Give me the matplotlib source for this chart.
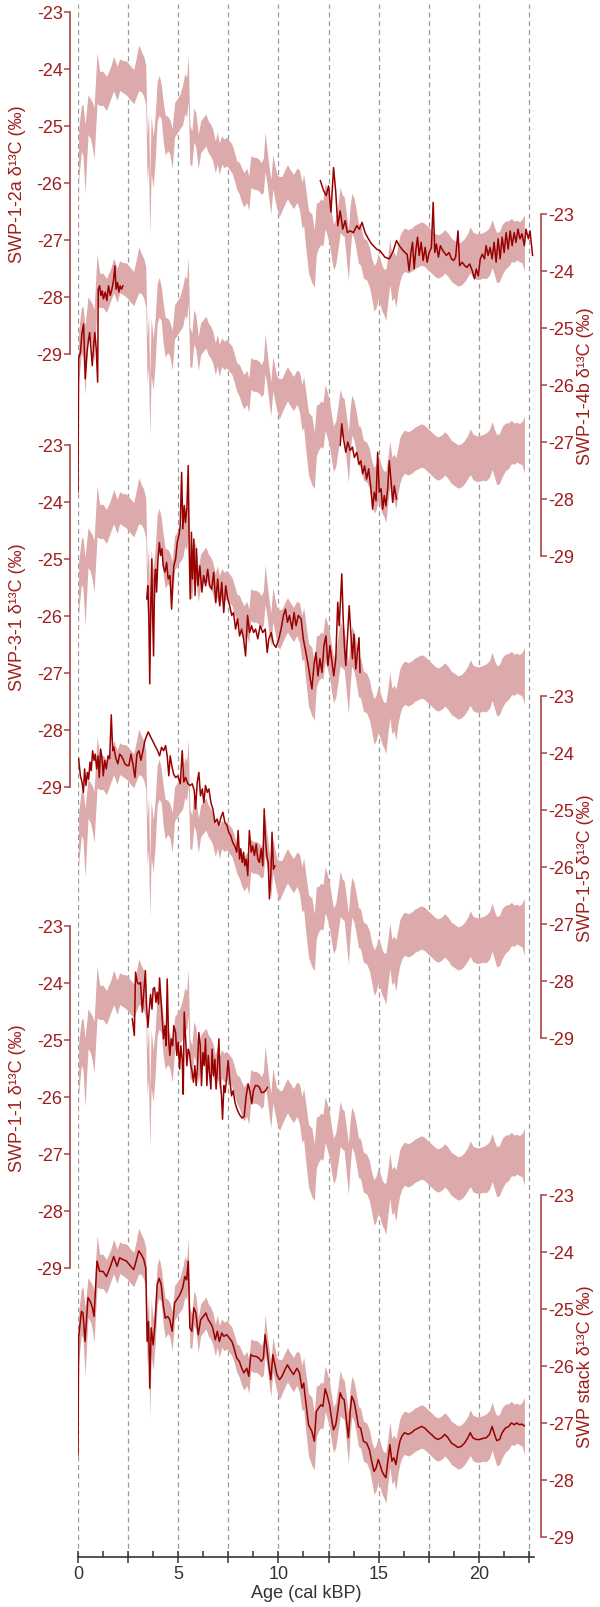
import matplotlib
matplotlib.use('Agg')
import matplotlib.pyplot as plt
from matplotlib.ticker import FixedLocator, FixedFormatter
import numpy as np

plt.rcParams['font.family'] = ['Liberation Sans', 'DejaVu Sans']
plt.rcParams['axes.unicode_minus'] = False

# ---------------- data ----------------
stack_age = [0.0, 0.03, 0.17, 0.25, 0.35, 0.5, 0.62, 0.72, 0.8, 0.95, 1.08, 1.25, 1.42, 1.62, 1.78, 1.95,
             2.08, 2.22, 2.42, 2.58, 2.78, 2.92, 3.03, 3.17, 3.28, 3.38, 3.45, 3.52, 3.58, 3.65, 3.75, 3.85,
             3.95, 4.05, 4.15, 4.25, 4.35, 4.48, 4.58, 4.7, 4.82, 4.92, 5.08, 5.22, 5.33, 5.42, 5.5, 5.58,
             5.68, 5.78, 5.88, 6.0, 6.12, 6.25, 6.38, 6.5, 6.62, 6.72, 6.85, 6.95, 7.05, 7.17, 7.28, 7.42,
             7.55, 7.68, 7.78, 7.92, 8.05, 8.17, 8.28, 8.42, 8.52, 8.62, 8.75, 8.88, 9.02, 9.15, 9.25, 9.33,
             9.42, 9.52, 9.62, 9.72, 9.82, 9.92, 10.05, 10.18, 10.33, 10.45, 10.58, 10.75, 10.92, 11.05,
             11.17, 11.26, 11.34, 11.5, 11.67, 11.79, 11.89, 12.0, 12.12, 12.22, 12.33, 12.42, 12.55, 12.67,
             12.75, 12.86, 12.98, 13.08, 13.18, 13.28, 13.38, 13.49, 13.58, 13.66, 13.77, 13.87, 13.99, 14.1,
             14.24, 14.4, 14.54, 14.65, 14.77, 14.87, 14.98, 15.07, 15.17, 15.26, 15.36, 15.46, 15.56, 15.66,
             15.76, 15.86, 15.96, 16.06, 16.16, 16.29, 16.47, 16.64, 16.8, 16.97, 17.14, 17.3, 17.47, 17.63,
             17.8, 17.96, 18.13, 18.3, 18.46, 18.63, 18.8, 18.96, 19.12, 19.29, 19.45, 19.57, 19.7, 19.87,
             20.03, 20.2, 20.36, 20.53, 20.66, 20.78, 20.89, 21.03, 21.16, 21.32, 21.49, 21.62, 21.77, 21.89,
             22.02, 22.15, 22.27]
stack_mean = [-27.56, -25.5, -25.04, -25.07, -25.57, -24.8, -24.87, -24.98, -25.13, -24.16, -24.34, -24.34,
              -24.43, -24.25, -24.08, -24.25, -24.1, -24.13, -24.16, -24.23, -24.31, -24.13, -23.98, -24.05,
              -24.13, -24.28, -25.57, -25.22, -26.39, -25.33, -25.63, -25.22, -24.57, -24.46, -24.57, -24.92,
              -25.16, -25.13, -25.19, -25.39, -24.89, -24.84, -24.75, -24.63, -24.43, -24.49, -24.16, -25.33,
              -25.39, -24.98, -25.07, -25.45, -25.19, -25.13, -25.07, -25.19, -25.25, -25.33, -25.54, -25.39,
              -25.57, -25.42, -25.48, -25.45, -25.51, -25.57, -25.68, -25.86, -25.92, -26.04, -26.12, -26.04,
              -26.18, -25.8, -25.83, -25.83, -25.86, -25.92, -25.86, -25.45, -25.68, -25.98, -26.24, -25.8,
              -25.98, -26.15, -26.24, -26.18, -26.06, -25.98, -26.06, -26.15, -26.04, -26.12, -26.39, -26.3,
              -26.56, -27.03, -27.15, -27.32, -26.8, -26.74, -26.68, -26.71, -26.4, -26.5, -26.68, -26.97,
              -27.12, -27.03, -26.74, -26.47, -26.56, -26.59, -26.91, -27.26, -26.8, -26.53, -26.62, -26.8,
              -27.06, -27.09, -27.32, -27.35, -27.47, -27.67, -27.85, -27.79, -27.64, -27.73, -27.85, -27.91,
              -27.96, -27.67, -27.38, -27.67, -27.61, -27.73, -27.5, -27.32, -27.23, -27.17, -27.2, -27.17,
              -27.12, -27.09, -27.06, -27.09, -27.15, -27.2, -27.26, -27.29, -27.26, -27.2, -27.26, -27.35,
              -27.39, -27.43, -27.41, -27.35, -27.26, -27.17, -27.26, -27.29, -27.29, -27.27, -27.26, -27.2,
              -27.06, -27.2, -27.31, -27.29, -27.17, -27.09, -27.06, -27.0, -27.03, -27.0, -27.03, -27.02,
              -27.05]
stack_err = [0.05, 0.45, 0.4, 0.45, 0.6, 0.35, 0.35, 0.4, 0.45, 0.45, 0.3, 0.3, 0.3, 0.28, 0.3, 0.3,
             0.28, 0.28, 0.3, 0.3, 0.3, 0.35, 0.4, 0.35, 0.35, 0.35, 0.4, 0.45, 0.5, 0.5, 0.45, 0.4,
             0.35, 0.35, 0.3, 0.35, 0.35, 0.3, 0.3, 0.35, 0.3, 0.3, 0.3, 0.35, 0.35, 0.35, 0.4, 0.35,
             0.3, 0.3, 0.3, 0.3, 0.28, 0.28, 0.28, 0.28, 0.28, 0.28, 0.28, 0.28, 0.28, 0.25, 0.25, 0.25,
             0.25, 0.25, 0.25, 0.25, 0.28, 0.3, 0.3, 0.3, 0.3, 0.28, 0.28, 0.28, 0.28, 0.28, 0.3, 0.35,
             0.3, 0.3, 0.3, 0.3, 0.3, 0.3, 0.35, 0.3, 0.3, 0.3, 0.3, 0.3, 0.3, 0.35,
             0.4, 0.45, 0.5, 0.55, 0.6, 0.5, 0.45, 0.4, 0.4, 0.4, 0.4, 0.4, 0.4, 0.4,
             0.4, 0.4, 0.4, 0.4, 0.35, 0.35, 0.4, 0.45, 0.4, 0.35, 0.35, 0.35, 0.35, 0.35,
             0.35, 0.35, 0.35, 0.35, 0.4, 0.4, 0.4, 0.4, 0.4, 0.4, 0.45, 0.4, 0.4, 0.4,
             0.4, 0.45, 0.4, 0.4, 0.38, 0.38, 0.38, 0.38, 0.38, 0.38, 0.38, 0.38, 0.38, 0.38,
             0.38, 0.38, 0.38, 0.38, 0.38, 0.38, 0.38, 0.38, 0.38, 0.38, 0.38, 0.4, 0.4, 0.4,
             0.4, 0.4, 0.42, 0.42, 0.42, 0.42, 0.44, 0.44, 0.44, 0.42, 0.4, 0.38, 0.36, 0.35,
             0.35, 0.38, 0.5]

swp12a_age = [12.09, 12.25, 12.38, 12.5, 12.62, 12.75, 12.86, 12.96, 13.08, 13.21, 13.33, 13.44, 13.58, 13.74,
              13.91, 14.04, 14.17, 14.32, 14.49, 14.65, 14.9, 15.07, 15.31, 15.53, 15.7, 15.89, 16.03, 16.16,
              16.31, 16.42, 16.52, 16.61, 16.69, 16.77, 16.85, 16.94, 17.02, 17.12, 17.22, 17.32, 17.42, 17.52,
              17.63, 17.72, 17.8, 17.88, 17.98, 18.08, 18.21, 18.38, 18.51, 18.63, 18.74, 18.84, 18.96, 19.04,
              19.17, 19.29, 19.4, 19.54, 19.67, 19.78, 19.87, 19.97, 20.07, 20.17, 20.28, 20.36, 20.46, 20.56,
              20.66, 20.76, 20.86, 20.96, 21.06, 21.16, 21.26, 21.36, 21.46, 21.56, 21.66, 21.76, 21.85, 21.95,
              22.05, 22.15, 22.27, 22.35, 22.47, 22.55, 22.68]
swp12a_val = [-25.96, -26.13, -26.22, -26.05, -26.51, -25.73, -26.16, -26.75, -26.49, -26.81, -26.66, -26.87,
              -26.84, -26.87, -26.75, -26.81, -26.69, -26.87, -26.98, -27.07, -27.16, -27.19, -27.3, -27.33,
              -27.22, -27.01, -27.1, -27.16, -27.22, -27.25, -27.54, -27.22, -27.04, -27.51, -27.19, -26.95,
              -27.27, -27.04, -27.36, -27.13, -27.39, -27.22, -27.13, -26.34, -27.22, -27.07, -27.3, -27.1,
              -27.19, -27.27, -27.22, -27.33, -27.36, -27.3, -26.84, -27.45, -27.39, -27.45, -27.48, -27.42,
              -27.54, -27.68, -27.51, -27.63, -27.33, -27.25, -27.33, -27.1, -27.27, -27.13, -27.33, -27.04,
              -27.39, -26.98, -27.33, -26.95, -27.22, -26.87, -27.16, -26.84, -27.1, -26.87, -27.04, -26.81,
              -26.98, -26.89, -27.1, -26.81, -26.98, -26.84, -27.27]

swp14b_age_a = [0.0, 0.03, 0.12, 0.2, 0.28, 0.36, 0.45, 0.53, 0.58, 0.65, 0.71, 0.78, 0.84, 0.91, 0.98, 1.01,
                1.08, 1.14, 1.21, 1.27, 1.36, 1.44, 1.52, 1.61, 1.69, 1.77, 1.84, 1.9, 1.97, 2.04, 2.1, 2.17,
                2.24]
swp14b_val_a = [-27.88, -25.54, -25.43, -25.08, -24.93, -25.89, -25.43, -25.19, -25.08, -25.37, -25.66, -25.31,
                -25.08, -25.37, -25.95, -24.32, -24.26, -24.43, -24.35, -24.49, -24.37, -24.52, -24.26, -24.43,
                -24.32, -24.17, -23.91, -24.32, -24.2, -24.37, -24.26, -24.32, -24.26]
swp14b_age_b = [13.08, 13.16, 13.25, 13.36, 13.46, 13.58, 13.69, 13.79, 13.91, 14.01, 14.11, 14.2, 14.3, 14.4,
                14.5, 14.6, 14.7, 14.78, 14.87, 14.95, 15.03, 15.12, 15.2, 15.28, 15.36, 15.45, 15.53, 15.61,
                15.7, 15.78, 15.89]
swp14b_val_b = [-27.06, -26.68, -26.95, -27.18, -27.0, -27.15, -27.09, -27.27, -27.18, -27.39, -27.33, -27.56,
                -27.42, -27.65, -27.47, -27.77, -28.18, -27.88, -28.03, -27.18, -27.88, -27.82, -28.18, -27.94,
                -28.12, -27.82, -27.33, -27.65, -28.06, -27.77, -28.0]

swp31_age = [3.43, 3.48, 3.53, 3.58, 3.63, 3.68, 3.72, 3.77, 3.82, 3.87, 3.92, 3.99, 4.06, 4.12, 4.19, 4.25,
             4.34, 4.42, 4.5, 4.59, 4.67, 4.72, 4.78, 4.87, 4.95, 5.03, 5.1, 5.17, 5.23, 5.3, 5.36, 5.43, 5.5,
             5.55, 5.6, 5.66, 5.71, 5.78, 5.84, 5.91, 5.98, 6.08, 6.18, 6.27, 6.37, 6.47, 6.57, 6.67, 6.77,
             6.87, 6.97, 7.07, 7.17, 7.27, 7.37, 7.47, 7.57, 7.67, 7.76, 7.86, 7.96, 8.06, 8.16, 8.26, 8.36,
             8.46, 8.56, 8.66, 8.76, 8.86, 8.97, 9.09, 9.22, 9.34, 9.44, 9.52, 9.64, 9.75, 9.88, 10.02, 10.13,
             10.25, 10.35, 10.45, 10.55, 10.68, 10.78, 10.88, 10.99, 11.13, 11.24, 11.37, 11.49, 11.59, 11.67,
             11.77, 11.87, 11.97, 12.07, 12.17, 12.27, 12.37, 12.47, 12.57, 12.67, 12.76, 12.86, 12.96, 13.03,
             13.1, 13.16, 13.23, 13.29, 13.36, 13.44, 13.53, 13.61, 13.69, 13.77, 13.86, 13.94, 14.02, 14.07]
swp31_val = [-25.7, -25.47, -25.94, -27.19, -25.82, -25.0, -25.94, -26.7, -25.35, -25.18, -25.58, -25.0, -24.71,
             -24.94, -24.82, -25.12, -25.23, -25.06, -25.35, -25.29, -25.88, -25.47, -25.12, -25.0, -24.71, -24.59,
             -24.42, -23.48, -24.47, -24.06, -24.36, -24.12, -23.36, -24.88, -25.7, -24.53, -25.35, -24.65,
             -25.64, -24.82, -25.47, -25.12, -25.58, -25.29, -25.47, -25.18, -25.47, -25.53, -25.23, -25.76,
             -25.35, -25.82, -25.41, -25.94, -25.47, -25.7, -25.82, -25.99, -25.94, -26.23, -26.05, -26.35,
             -26.23, -26.4, -26.7, -25.99, -26.29, -26.17, -26.29, -26.23, -26.4, -26.17, -26.29, -26.23, -26.64,
             -26.4, -26.29, -26.49, -26.55, -26.4, -26.23, -25.99, -25.88, -26.11, -25.99, -26.23, -25.94, -26.17,
             -25.99, -26.05, -26.4, -26.64, -26.87, -27.11, -27.28, -26.87, -26.64, -27.05, -26.75, -26.99,
             -26.52, -26.35, -26.87, -26.52, -26.81, -27.05, -26.75, -25.76, -26.17, -25.7, -25.26, -26.05,
             -26.52, -26.87, -26.4, -25.82, -26.29, -26.75, -26.32, -26.93, -26.64, -26.38, -26.99]

swp15_age = [0.03, 0.12, 0.2, 0.27, 0.33, 0.4, 0.47, 0.53, 0.6, 0.66, 0.73, 0.8, 0.86, 0.93, 1.0, 1.06, 1.13,
             1.2, 1.26, 1.33, 1.41, 1.5, 1.58, 1.66, 1.73, 1.79, 1.88, 1.99, 2.08, 2.16, 2.24, 2.34, 2.44, 2.54,
             2.64, 2.74, 2.84, 2.94, 3.04, 3.14, 3.24, 3.34, 3.5, 3.67, 3.84, 3.97, 4.07, 4.17, 4.27, 4.37, 4.45,
             4.53, 4.6, 4.68, 4.77, 4.87, 4.98, 5.1, 5.2, 5.28, 5.37, 5.48, 5.6, 5.7, 5.8, 5.86, 5.95, 6.03,
             6.11, 6.2, 6.28, 6.36, 6.45, 6.53, 6.63, 6.73, 6.83, 6.93, 7.03, 7.13, 7.23, 7.33, 7.43, 7.52,
             7.62, 7.72, 7.82, 7.92, 7.99, 8.06, 8.12, 8.19, 8.26, 8.32, 8.39, 8.47, 8.55, 8.64, 8.72, 8.8,
             8.89, 8.97, 9.05, 9.14, 9.22, 9.29, 9.35, 9.42, 9.49, 9.55, 9.62, 9.68, 9.75, 9.82]
swp15_val = [-24.1, -24.4, -24.51, -24.69, -24.28, -24.57, -24.34, -24.46, -24.16, -24.31, -23.96, -24.13,
             -24.02, -24.28, -24.05, -24.43, -23.93, -24.1, -24.4, -24.13, -24.28, -24.05, -24.1, -23.33, -23.96,
             -23.9, -24.08, -24.19, -24.02, -24.05, -24.1, -24.19, -24.22, -24.22, -24.02, -24.19, -24.43,
             -24.02, -23.96, -24.13, -23.96, -23.78, -23.63, -23.75, -23.87, -23.96, -24.05, -23.9, -23.96,
             -23.87, -24.05, -24.4, -24.05, -24.22, -24.37, -24.43, -24.4, -24.54, -23.96, -24.51, -24.43,
             -24.54, -24.57, -24.54, -24.66, -24.98, -24.51, -24.34, -24.75, -24.63, -24.87, -24.57, -24.69,
             -24.63, -24.87, -24.98, -25.22, -25.16, -25.27, -25.13, -25.04, -25.22, -25.27, -25.39, -25.45,
             -25.57, -25.63, -25.74, -25.36, -25.86, -25.68, -25.92, -25.74, -25.98, -25.86, -26.15, -25.36,
             -25.74, -25.63, -25.8, -25.6, -25.86, -25.92, -25.68, -25.98, -24.98, -25.51, -25.8, -25.92, -26.56,
             -26.15, -25.39, -26.04, -25.98]

swp11_age = [2.71, 2.81, 2.87, 2.96, 3.04, 3.12, 3.21, 3.27, 3.36, 3.42, 3.49, 3.55, 3.62, 3.69, 3.75, 3.82,
             3.89, 3.95, 4.02, 4.07, 4.14, 4.2, 4.27, 4.34, 4.4, 4.45, 4.52, 4.58, 4.65, 4.72, 4.78, 4.87, 4.93,
             5.0, 5.07, 5.13, 5.2, 5.25, 5.3, 5.37, 5.43, 5.5, 5.56, 5.63, 5.7, 5.76, 5.83, 5.9, 5.96, 6.03,
             6.1, 6.16, 6.23, 6.3, 6.36, 6.43, 6.5, 6.56, 6.63, 6.69, 6.76, 6.83, 6.89, 6.96, 7.03, 7.09, 7.16,
             7.21, 7.28, 7.34, 7.41, 7.49, 7.57, 7.66, 7.74, 7.84, 7.94, 8.06, 8.19, 8.29, 8.39, 8.49, 8.59,
             8.67, 8.75, 8.85, 8.95, 9.05, 9.15, 9.25, 9.35, 9.45]
swp11_val = [-24.63, -24.92, -23.81, -23.99, -24.02, -23.99, -24.51, -24.22, -23.78, -24.39, -24.78, -24.49,
             -24.2, -24.46, -24.1, -24.08, -24.34, -24.16, -24.37, -23.91, -24.28, -24.63, -24.98, -24.75, -25.1,
             -23.93, -24.98, -25.27, -24.98, -25.1, -24.75, -24.87, -25.27, -25.04, -25.51, -25.1, -25.34,
             -25.95, -24.51, -24.98, -25.45, -25.16, -25.22, -25.45, -25.57, -25.74, -25.45, -25.8, -25.45,
             -24.87, -25.1, -25.8, -25.22, -25.45, -24.98, -25.8, -25.27, -25.57, -25.86, -25.16, -25.63,
             -25.34, -25.86, -25.45, -24.98, -25.69, -25.98, -26.39, -25.8, -25.92, -25.69, -25.36, -25.69,
             -25.98, -25.89, -26.11, -26.22, -26.31, -26.37, -26.34, -25.98, -25.77, -25.92, -26.12, -25.89,
             -25.8, -25.8, -25.83, -25.92, -25.92, -25.89, -25.83]

panel_labels = ['SWP-1-2a δ¹³C (‰)', 'SWP-1-4b δ¹³C (‰)', 'SWP-3-1 δ¹³C (‰)',
                'SWP-1-5 δ¹³C (‰)', 'SWP-1-1 δ¹³C (‰)', 'SWP stack δ¹³C (‰)']
y_ticks = [-23, -24, -25, -26, -27, -28, -29]
x_major = [0, 2.5, 5, 7.5, 10, 12.5, 15, 17.5, 20, 22.5]
x_labels = ['0', '', '5', '', '10', '', '15', '', '20', '']
x_minor = [1.25, 3.75, 6.25, 8.75, 11.25, 13.75, 16.25, 18.75, 21.25]

records = [
    [(swp12a_age, swp12a_val)],
    [(swp14b_age_a, swp14b_val_a), (swp14b_age_b, swp14b_val_b)],
    [(swp31_age, swp31_val)],
    [(swp15_age, swp15_val)],
    [(swp11_age, swp11_val)],
    [(stack_age, stack_mean)],
]

# ---------------- layout / style ----------------
W, H = 600, 1608
X0, X1 = 78, 534
XMAX = 22.75
PXU = 57.0
panel_top = [13, 215, 446, 697, 927, 1196]
sides = ['left', 'right', 'left', 'right', 'left', 'right']
LINE = '#990000'
TXT = '#a01e1e'
SPINE = '#a84444'
BAND = '#dcaaaa'
FS = 13

fig = plt.figure(figsize=(W / 100, H / 100), dpi=100)

# base axes: x axis + dashed grid
axb = fig.add_axes([X0 / W, 1 - 1558 / H, (X1 - X0) / W, (1558 - 5) / H])
axb.set_xlim(0, XMAX)
axb.set_ylim(0, 1)
for s in ['left', 'right', 'top']:
    axb.spines[s].set_visible(False)
axb.spines['bottom'].set_color('#333333')
axb.spines['bottom'].set_linewidth(1.2)
axb.set_yticks([])
axb.xaxis.set_major_locator(FixedLocator(x_major))
axb.xaxis.set_major_formatter(FixedFormatter(x_labels))
axb.xaxis.set_minor_locator(FixedLocator(x_minor))
axb.tick_params(axis='x', which='major', direction='inout', length=8, width=1.1, colors='#333333',
                labelsize=FS, pad=2)
axb.tick_params(axis='x', which='minor', direction='in', length=4, width=1.1, colors='#333333')
axb.set_xlabel('Age (cal kBP)', fontsize=FS, color='#333333', labelpad=1)
for xv in x_major:
    axb.axvline(xv, color='#9a9a9a', lw=0.9, ls=(0, (4, 3)), zorder=0)

s_age = np.array(stack_age)
s_mean = np.array(stack_mean)
s_err = np.array(stack_err)

for i in range(6):
    y23 = panel_top[i]
    ax = fig.add_axes([X0 / W, 1 - (y23 + 6.5 * PXU) / H, (X1 - X0) / W, 7 * PXU / H])
    ax.set_xlim(0, XMAX)
    ax.set_ylim(-29.5, -22.5)
    ax.patch.set_visible(False)
    side = sides[i]
    for s in ['left', 'right', 'top', 'bottom']:
        ax.spines[s].set_visible(s == side)
    sp = ax.spines[side]
    sp.set_bounds(-29, -23)
    sp.set_color(SPINE)
    sp.set_linewidth(1.2)
    sp.set_position(('outward', (8 if side == 'left' else 7) * 0.72))
    ax.set_xticks([])
    ax.yaxis.set_ticks_position(side)
    ax.set_yticks(y_ticks)
    ax.set_yticklabels([str(v) for v in y_ticks])
    ax.tick_params(axis='y', direction='out', length=4.3, width=1.1, colors=SPINE,
                   labelcolor=TXT, labelsize=FS, pad=1)

    ax.fill_between(s_age, s_mean - s_err, s_mean + s_err, color=BAND, lw=0, zorder=1)
    for (a, v) in records[i]:
        ax.plot(a, v, color=LINE, lw=1.1, zorder=3)

    if side == 'left':
        xl = (18 - X0) / (X1 - X0)
    else:
        xl = (585 - X0) / (X1 - X0)
    ax.text(xl, 0.5, panel_labels[i], transform=ax.transAxes, rotation=90,
            ha='center', va='center', fontsize=FS, color=TXT)

fig.savefig('out.png', dpi=100)
